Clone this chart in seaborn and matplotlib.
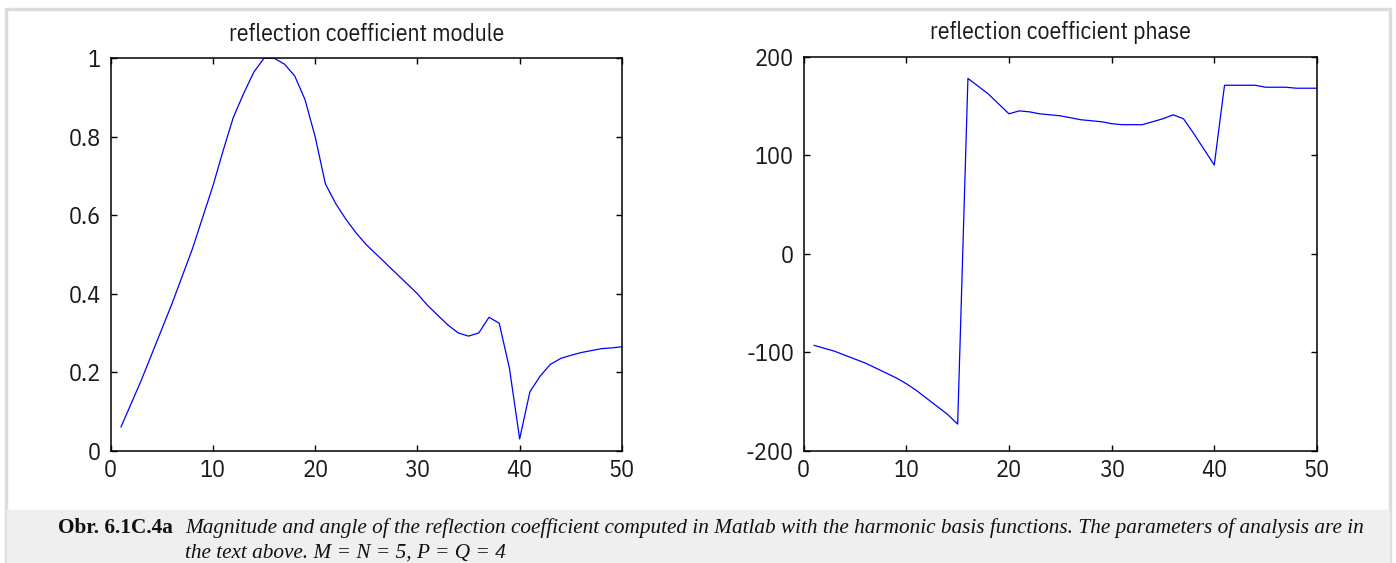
import numpy as np
import pandas as pd
import matplotlib
matplotlib.use("Agg")
import matplotlib.pyplot as plt
from matplotlib.patches import Rectangle
import seaborn as sns

# Frequency sample index
freq = list(range(1, 51))

# |Gamma| - module of the reflection coefficient
module = [0.06, 0.12, 0.18, 0.245, 0.31, 0.375, 0.445, 0.515, 0.595, 0.675,
          0.765, 0.85, 0.91, 0.965, 1.0, 1.0, 0.985, 0.955, 0.895, 0.80,
          0.68, 0.63, 0.59, 0.555, 0.525, 0.50, 0.475, 0.45, 0.425, 0.40,
          0.37, 0.345, 0.32, 0.30, 0.292, 0.30, 0.34, 0.325, 0.21, 0.03,
          0.15, 0.19, 0.22, 0.235, 0.243, 0.25, 0.255, 0.26, 0.262, 0.265]

# arg(Gamma) in degrees
phase = [-93, -96, -99, -103, -107, -111, -116, -121, -126, -132,
         -139, -147, -155, -163, -173, 178, 170, 162, 152, 142,
         145, 144, 142, 141, 140, 138, 136, 135, 134, 132,
         131, 131, 131, 134, 137, 141, 137, 122, 106, 90,
         171, 171, 171, 171, 169, 169, 169, 168, 168, 168]

titles = ["reflection coefficient module", "reflection coefficient phase"]
x_ticks = [0, 10, 20, 30, 40, 50]
module_ticks = [0, 0.2, 0.4, 0.6, 0.8, 1]
module_labels = ["0", "0.2", "0.4", "0.6", "0.8", "1"]
phase_ticks = [-200, -100, 0, 100, 200]
phase_labels = ["-200", "-100", "0", "100", "200"]

caption_tag = "Obr. 6.1C.4a"
caption_line1 = ("Magnitude and angle of the reflection coefficient computed in Matlab "
                 "with the harmonic basis functions. The parameters of analysis are in")
caption_line2 = "the text above. M = N = 5, P = Q = 4"

sns.set_style("white")
plt.rcParams["font.family"] = ["IBM Plex Sans Condensed", "DejaVu Sans"]

W, H = 1396, 563
fig = plt.figure(figsize=(W / 100, H / 100), dpi=100)
fig.patch.set_facecolor("white")

def fx(px):
    return px / W

def fy(py):
    return 1 - py / H

# page frame and caption band
border = "#dddddd"
fig.patches.append(Rectangle((fx(5), fy(10)), fx(1391 - 5), 2 / H,
                             transform=fig.transFigure, color=border, zorder=0))
fig.patches.append(Rectangle((fx(5), 0), fx(2), fy(10),
                             transform=fig.transFigure, color=border, zorder=0))
fig.patches.append(Rectangle((fx(1389), 0), fx(2), fy(10),
                             transform=fig.transFigure, color=border, zorder=0))
fig.patches.append(Rectangle((fx(7), 0), fx(1389 - 7), fy(510),
                             transform=fig.transFigure, color="#efefef", zorder=0))

df = pd.DataFrame({"f": freq, "module": module, "phase": phase})

ax1 = fig.add_axes([fx(110.7), fy(450.7), fx(621.9 - 110.7), (450.7 - 58.3) / H])
ax2 = fig.add_axes([fx(803.7), fy(450.7), fx(1316.9 - 803.7), (450.7 - 56.7) / H])

specs = [
    (ax1, "module", (0, 1), module_ticks, module_labels),
    (ax2, "phase", (-200, 200), phase_ticks, phase_labels),
]
for ax, col, ylim, yt, yl in specs:
    sns.lineplot(data=df, x="f", y=col, ax=ax, color="#0000ff", linewidth=0.9)
    ax.set_xlim(0, 50)
    ax.set_ylim(*ylim)
    ax.set_xticks(x_ticks)
    ax.set_xticklabels([str(t) for t in x_ticks])
    ax.set_yticks(yt)
    ax.set_yticklabels(yl)
    ax.set_xlabel("")
    ax.set_ylabel("")
    for s in ax.spines.values():
        s.set_visible(True)
        s.set_color("black")
        s.set_linewidth(1.1)
    ax.tick_params(direction="in", length=4, width=1, top=True, right=True,
                   bottom=True, left=True, labelsize=17.5, colors="black",
                   labelcolor="#1a1a1a")
    ax.tick_params(axis="x", pad=6)
    ax.tick_params(axis="y", pad=7)
    ax.set_facecolor("white")

ax1.set_title(titles[0], fontsize=17, pad=12.5, color="#1a1a1a")
ax2.set_title(titles[1], fontsize=17, pad=12.5, color="#1a1a1a")

fig.text(fx(58), fy(528), caption_tag, family="Liberation Serif", weight="bold",
         fontsize=15.3, va="center", ha="left", color="#111111")
fig.text(fx(185), fy(528), caption_line1, family="Liberation Serif", style="italic",
         fontsize=15.3, va="center", ha="left", color="#111111")
fig.text(fx(185), fy(553), caption_line2, family="Liberation Serif", style="italic",
         fontsize=15.3, va="center", ha="left", color="#111111")

fig.savefig("out.png", dpi=100)
